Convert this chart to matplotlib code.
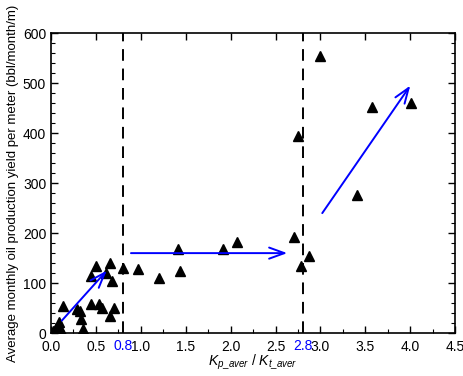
#!/usr/bin/env python3

import matplotlib
matplotlib.use("Agg")
import matplotlib.pyplot as plt
from matplotlib.ticker import MultipleLocator

# ratio of permeabilities and oil yield per meter
k_ratio = [0.02, 0.05, 0.08, 0.10, 0.12, 0.09, 0.13, 0.29, 0.32, 0.33, 0.36,
           0.44, 0.53, 0.57, 0.70, 0.66, 0.45, 0.61, 0.50, 0.66, 0.68, 0.80,
           0.97, 1.20, 1.41, 1.44, 1.91, 2.07, 2.70, 2.78, 2.87, 2.75, 3.00,
           3.41, 3.57, 4.01]
oil_yield = [5, 10, 15, 8, 3, 22, 55, 48, 45, 28, 8,
             58, 58, 50, 50, 35, 115, 120, 135, 140, 105, 130,
             128, 110, 168, 125, 168, 182, 192, 135, 155, 395, 555,
             277, 453, 460]

# boundaries between the three regimes
boundaries = [0.8, 2.8]
boundary_labels = ['0.8', '2.8']

# trend arrows (start, end)
trend_arrows = [((0.12, 25), (0.62, 125)),
                ((0.89, 160), (2.63, 160)),
                ((3.02, 240), (4.0, 495))]

arrow_color = '#0000ff'

plt.rcParams['font.family'] = ['Liberation Sans', 'DejaVu Sans']
plt.rcParams['mathtext.fontset'] = 'custom'
plt.rcParams['mathtext.it'] = 'Liberation Sans:italic'
plt.rcParams['mathtext.rm'] = 'Liberation Sans'

fig = plt.figure(figsize=(4.64, 3.76), dpi=100)
ax = fig.add_axes([0.110, 0.114, 0.871, 0.798])

ax.plot(k_ratio, oil_yield, '^', color='black', markersize=7, zorder=3)

for xb in boundaries:
    ax.axvline(xb, color='black', linestyle=(0, (6, 4)), linewidth=1.4)

for (x0, y0), (x1, y1) in trend_arrows:
    ax.annotate('', xy=(x1, y1), xytext=(x0, y0),
                arrowprops=dict(arrowstyle='->,head_length=1.1,head_width=0.4',
                                color=arrow_color, lw=1.4,
                                shrinkA=0, shrinkB=0))

ax.set_xlim(0, 4.5)
ax.set_ylim(0, 600)
ax.xaxis.set_major_locator(MultipleLocator(0.5))
ax.xaxis.set_minor_locator(MultipleLocator(0.25))
ax.yaxis.set_major_locator(MultipleLocator(100))
ax.yaxis.set_minor_locator(MultipleLocator(20))
ax.xaxis.set_major_formatter(matplotlib.ticker.FormatStrFormatter('%.1f'))

ax.tick_params(which='both', direction='in', top=True, right=True,
               labelsize=10)
ax.tick_params(which='major', length=5, width=1)
ax.tick_params(which='minor', length=3, width=0.8)
ax.tick_params(axis='x', which='minor', top=False)
ax.tick_params(axis='x', pad=5)
for sp in ax.spines.values():
    sp.set_linewidth(1.2)

# blue labels for the regime boundaries
for xb, lab in zip(boundaries, boundary_labels):
    ax.text(xb, -0.018, lab, color=arrow_color, fontsize=10,
            ha='center', va='top',
            transform=ax.get_xaxis_transform())

ax.set_xlabel(r'$K_{p\_aver}$ / $K_{t\_aver}$', fontsize=10, labelpad=-1)
ax.set_ylabel('Average monthly oil production yield per meter (bbl/month/m)',
              fontsize=9.5, labelpad=3)

fig.savefig('out.png', dpi=100)
